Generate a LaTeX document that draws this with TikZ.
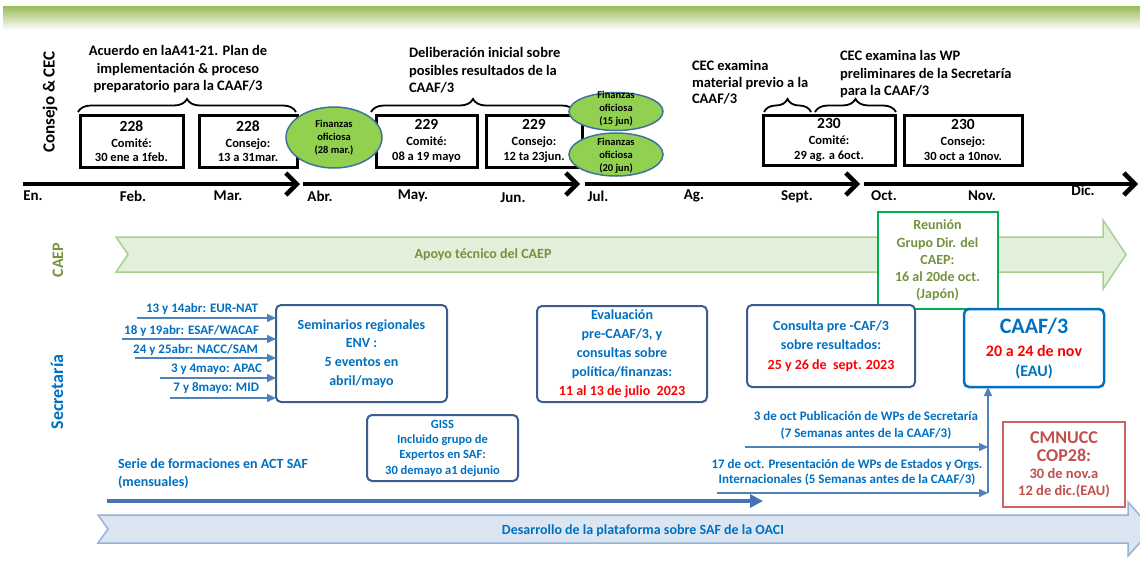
\documentclass[tikz,border=0pt]{standalone}
\usepackage{fontspec}
\setmainfont{Carlito}
\usetikzlibrary{arrows.meta,shapes.geometric,decorations.pathreplacing,calc}
\newcommand{\fs}[2]{\fontsize{#1}{#2}\selectfont}
\definecolor{blueT}{RGB}{0,112,192}
\definecolor{boxB}{RGB}{58,95,143}
\definecolor{arrB}{RGB}{79,129,189}
\definecolor{serieC}{RGB}{70,114,180}
\definecolor{greenT}{RGB}{118,146,60}
\definecolor{caepFill}{RGB}{226,239,218}
\definecolor{caepLine}{RGB}{169,208,142}
\definecolor{reuB}{RGB}{0,176,80}
\definecolor{ellF}{RGB}{146,208,80}
\definecolor{ellB}{RGB}{65,113,156}
\definecolor{topG}{RGB}{155,187,89}
\definecolor{devF}{RGB}{220,230,242}
\definecolor{devB}{RGB}{149,179,215}
\definecolor{copT}{RGB}{192,80,77}
\definecolor{copB}{RGB}{205,100,100}
\definecolor{redT}{RGB}{255,0,0}
\begin{document}
\begin{tikzpicture}[x=1pt,y=-1pt,
  every node/.style={inner sep=0pt, outer sep=0pt, font=\bfseries},
  calbox/.style={draw=black, line width=3pt, fill=white, align=center, inner sep=1pt, font=\bfseries\fs{12.5}{14.5}},
  fin/.style={ellipse, draw=ellB, line width=1.5pt, fill=ellF},
  fintext/.style={align=center, font=\bfseries\fs{10.5}{13}},
  brc/.style={decorate, decoration={brace, amplitude=13pt}, line width=1.8pt},
  tl/.style={line width=4.5pt, -{Straight Barb[length=11pt,width=22pt]}},
  month/.style={font=\bfseries\fs{15}{18}},
  note/.style={font=\bfseries\fs{14.5}{17.5}},
  secbox/.style={draw=boxB, line width=2pt, rounded corners=5pt, fill=white, align=center},
  regarrow/.style={draw=arrB, line width=1.5pt, -{Triangle[length=9pt,width=8pt]}},
  reglabel/.style={font=\bfseries\fs{13}{15}, text=blueT, anchor=east},
]
\useasboundingbox (0,0) rectangle (1140,571);
\clip (0,0) rectangle (1140,571);
\fill[white] (0,0) rectangle (1140,571);

% top gradient band
\shade[top color=topG, bottom color=white] (3,6) rectangle (1140,30);

% row labels
\node[rotate=90, font=\bfseries\fs{17}{19}] (lblcc) at (50,102) {Consejo \& CEC};
\node[rotate=90, text=greenT, font=\bfseries\fs{16}{18}] (lblcaep) at (58,260) {CAEP};
\node[rotate=90, text=blueT, font=\bfseries\fs{18}{20}] (lblsec) at (57,392) {Secretaría};

% notes above braces
\node[note, align=center] (n1) at (178,69.5) {Acuerdo en laA41-21. Plan de\\implementación \& proceso\\preparatorio para la CAAF/3};
\node[note, align=left, anchor=west] (n2) at (409,70.5) {Deliberación inicial sobre\\posibles resultados de la\\CAAF/3};
\node[note, align=left, anchor=west, font=\bfseries\fs{14.5}{16.5}] (n3) at (692,82.5) {CEC examina\\material previo a la\\CAAF/3};
\node[note, align=left, anchor=west] (n4) at (840,74.5) {CEC examina las WP\\preliminares de la Secretaría\\para la CAAF/3};

% braces
\coordinate (br1a) at (78,112); \coordinate (br1b) at (296,112);
\coordinate (br2a) at (371,112); \coordinate (br2b) at (575,112);
\coordinate (br3a) at (764,112); \coordinate (br3b) at (811,112);
\coordinate (br4a) at (815,112); \coordinate (br4b) at (896,112);
\draw[brc] (br1a) -- (br1b);
\draw[brc] (br2a) -- (br2b);
\draw[brc] (br3a) -- (br3b);
\draw[brc] (br4a) -- (br4b);

% council boxes
\node[calbox, minimum width=103pt, minimum height=52pt] (c1) at (131.5,141) {{\fs{15.5}{17}228}\\[1.5pt]Comité:\\30 ene a 1feb.};
\node[calbox, minimum width=98pt, minimum height=52pt] (c2) at (248,141) {{\fs{15.5}{17}228}\\[1.5pt]Consejo:\\13 a 31mar.};
\node[calbox, minimum width=101pt, minimum height=52pt] (c3) at (426.5,141) {{\fs{15.5}{17}229}\\[1.5pt]Comité:\\08 a 19 mayo};
\node[calbox, minimum width=96pt, minimum height=52pt] (c4) at (534,141) {{\fs{15.5}{17}229}\\[1.5pt]Consejo:\\12 ta 23jun.};
\node[calbox, minimum width=132pt, minimum height=50pt] (c5) at (829,140) {{\fs{15.5}{17}230}\\[1.5pt]Comité:\\29 ag. a 6oct.};
\node[calbox, minimum width=118pt, minimum height=50pt] (c6) at (963,140) {{\fs{15.5}{17}230}\\[1.5pt]Consejo:\\30 oct a 10nov.};

% finance ellipses
\node[fin, minimum width=96pt, minimum height=61pt] (e1) at (334,137.5) {};
\node[fintext] (e1t) at (e1) {Finanzas\\oficiosa\\(28 mar.)};
\node[fin, minimum width=94pt, minimum height=38pt] (e2) at (616,111.5) {};
\node[fintext] (e2t) at (616,108.5) {Finanzas\\oficiosa\\(15 jun)};
\node[fin, minimum width=94pt, minimum height=43pt] (e3) at (616,154.5) {};
\node[fintext] (e3t) at (616,155.5) {Finanzas\\oficiosa\\(20 jun)};

% timeline
\coordinate (t1a) at (23,184); \coordinate (t1b) at (300,184);
\coordinate (t2a) at (303,184); \coordinate (t2b) at (580,184);
\coordinate (t3a) at (585,184); \coordinate (t3b) at (860,184);
\coordinate (t4a) at (864,184); \coordinate (t4b) at (1138,184);
\draw[tl] (t1a) -- (t1b);
\draw[tl] (t2a) -- (t2b);
\draw[tl] (t3a) -- (t3b);
\draw[tl] (t4a) -- (t4b);

% months
\node[month] (m1) at (33,196) {En.};
\node[month] (m2) at (133,196) {Feb.};
\node[month] (m3) at (228,196) {Mar.};
\node[month] (m4) at (320,196) {Abr.};
\node[month] (m5) at (413,196) {May.};
\node[month] (m6) at (513,198) {Jun.};
\node[month] (m7) at (598,196) {Jul.};
\node[month] (m8) at (694,196) {Ag.};
\node[month] (m9) at (797,197) {Sept.};
\node[month] (m10) at (884,196) {Oct.};
\node[month] (m11) at (982,196) {Nov.};
\node[month] (m12) at (1083,190) {Dic.};

% CAEP band
\draw[draw=caepLine, fill=caepFill, line width=1.5pt] (116,237) -- (1103,237) -- (1103,220) -- (1126,254.5) -- (1103,289) -- (1103,272) -- (116,272) -- (128,254.5) -- cycle;
\node[text=greenT, font=\bfseries\fs{14}{17}] (apoyo) at (483,255) {Apoyo técnico del CAEP};
\node[draw=reuB, line width=2pt, fill=white, minimum width=120pt, minimum height=97pt, align=center, text=greenT, font=\bfseries\fs{14}{17.2}] (reu) at (937.5,260.5) {Reunión\\Grupo Dir. del\\CAEP:\\16 al 20de oct.\\(Japón)};

% Secretariat boxes
\node[secbox, minimum width=171pt, minimum height=97pt, text=blueT, font=\bfseries\fs{14}{18.7}] (sem) at (361.5,353.5) {Seminarios regionales\\ENV :\\5 eventos en\\abril/mayo};
\node[secbox, minimum width=170pt, minimum height=96pt, text=blueT, font=\bfseries\fs{14}{19}] (eval) at (622,354) {Evaluación\\pre-CAAF/3, y\\consultas sobre\\política/finanzas:\\\textcolor{redT}{11 al 13 de julio\ \ 2023}};
\node[secbox, minimum width=168pt, minimum height=82pt, text=blueT, font=\bfseries\fs{14}{19.5}] (cons) at (831,346) {Consulta pre -CAF/3\\sobre resultados:\\\textcolor{redT}{25 y 26 de\ \ sept. 2023}};
\node[secbox, draw=blueT, line width=2.5pt, minimum width=140pt, minimum height=78pt, text=blueT, font=\bfseries\fs{16}{20}] (caaf) at (1034,348) {{\fs{22}{24}CAAF/3}\\[3pt]\textcolor{redT}{20 a 24 de nov}\\(EAU)};
\node[secbox, minimum width=151pt, minimum height=66pt, text=blueT, font=\bfseries\fs{12.5}{15.3}] (giss) at (442.5,448) {GISS\\Incluido grupo de\\Expertos en SAF:\\30 demayo a1 dejunio};
\node[draw=copB, line width=2pt, fill=white, minimum width=122pt, minimum height=85pt, align=center, text=copT, font=\bfseries\fs{14.5}{17}] (cop) at (1064,464.5) {{\fs{18}{20}CMNUCC}\\[1pt]{\fs{18}{20}COP28:}\\30 de nov.a\\12 de dic.(EAU)};

% regional seminar arrows
\node[reglabel] (r1) at (258,309) {13 y 14abr: EUR-NAT};
\node[reglabel] (r2) at (259,331) {18 y 19abr: ESAF/WACAF};
\node[reglabel] (r3) at (258,350) {24 y 25abr: NACC/SAM};
\node[reglabel] (r4) at (262,369) {3 y 4mayo: APAC};
\node[reglabel] (r5) at (259,388) {7 y 8mayo: MID};
\coordinate (r1s) at (137,318);
\coordinate (r2s) at (122,339);
\coordinate (r3s) at (135,358);
\coordinate (r4s) at (160,378);
\coordinate (r5s) at (170,398);
\draw[regarrow] (r1s) -- (r1s -| sem.west);
\draw[regarrow] (r2s) -- (r2s -| sem.west);
\draw[regarrow] (r3s) -- (r3s -| sem.west);
\draw[regarrow] (r4s) -- (r4s -| sem.west);
\draw[regarrow] (r5s) -- (r5s -| sem.west);

% training series
\node[anchor=west, align=left, text=blueT, font=\bfseries\fs{14}{18}] (serie) at (118,474) {Serie de formaciones en ACT SAF\\(mensuales)};
\coordinate (sa) at (107,501); \coordinate (sb) at (763,501);
\draw[line width=4pt, draw=serieC, -{Triangle[length=13pt,width=13pt]}] (sa) -- (sb);

% working paper arrows
\node[text=blueT, font=\bfseries\fs{13}{17}, align=center] (pub1) at (866,425.5) {3 de oct Publicación de WPs de Secretaría\\(7 Semanas antes de la CAAF/3)};
\node[text=blueT, font=\bfseries\fs{13}{15.5}, align=center] (pub2) at (847,472.5) {17 de oct. Presentación de WPs de Estados y Orgs.\\Internacionales (5 Semanas antes de la CAAF/3)};
\coordinate (p1s) at (745,447); \coordinate (p1e) at (988,447);
\coordinate (p2s) at (717,493); \coordinate (p2e) at (988,493);
\draw[regarrow] (p1s) -- (p1e);
\draw[regarrow] (p2s) -- (p2e);
\draw[regarrow] (p2e) -- (caaf.south -| p2e);

% development band
\draw[draw=devB, fill=devF, line width=1.5pt] (98,515) -- (1128,515) -- (1128,502) -- (1152,529) -- (1128,556) -- (1128,543) -- (98,543) -- (108,529) -- cycle;
\node[text=blueT, font=\bfseries\fs{14}{17}] (dev) at (643,531) {Desarrollo de la plataforma sobre SAF de la OACI};
\end{tikzpicture}
\end{document}
